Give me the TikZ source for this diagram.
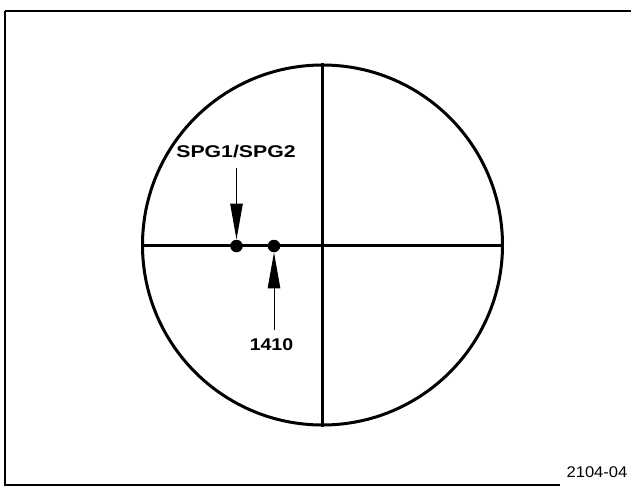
\documentclass[tikz,border=0pt]{standalone}
\usepackage{fontspec}
\usepackage{graphicx}
\newfontfamily\hvfont{Liberation Sans}
\usetikzlibrary{arrows.meta}
\tikzset{
  thickline/.style={line width=3pt},
  framebox/.style={line width=2.5pt},
  dotnode/.style={circle, fill=black, inner sep=0pt, minimum size=12.5pt},
  lblbold/.style={inner sep=0pt, font=\hvfont\bfseries\fontsize{17}{19}\selectfont},
  lblplain/.style={inner sep=0pt, font=\hvfont\fontsize{15.5}{17}\selectfont},
  ptr/.style={line width=1pt, -{Triangle[length=36pt,width=12.5pt]}}
}
\begin{document}
\begin{tikzpicture}[x=1pt,y=-1pt]
\useasboundingbox (0,0) rectangle (632,487);
% frame
\draw[framebox] (5,11) -- (631,11);
\draw[framebox] (5,11) -- (5,485) -- (560,485);
% scope circle
\node[circle, draw, thickline, minimum size=360pt, inner sep=0pt] (scope) at (322.5,245) {};
\draw[thickline] (scope.west) -- (scope.east);
\draw[thickline] (scope.north) -- (scope.south);
% dots
\node[dotnode] (d1) at (236.5,246) {};
\node[dotnode] (d2) at (274,246) {};
% labels
\node[lblbold] (l1) at (236,152) {\scalebox{1.25}[1]{SPG1/SPG2}};
\node[lblbold] (l2) at (271.5,345) {\scalebox{1.15}[1]{1410}};
\node[lblplain] (l3) at (597,472) {\scalebox{1.07}[1]{2104-04}};
% pointers
\coordinate (a1) at (236.5,168);
\coordinate (a2) at (274,330);
\draw[ptr] (a1) -- (d1.north);
\draw[ptr] (a2) -- (d2.south);
\end{tikzpicture}
\end{document}
